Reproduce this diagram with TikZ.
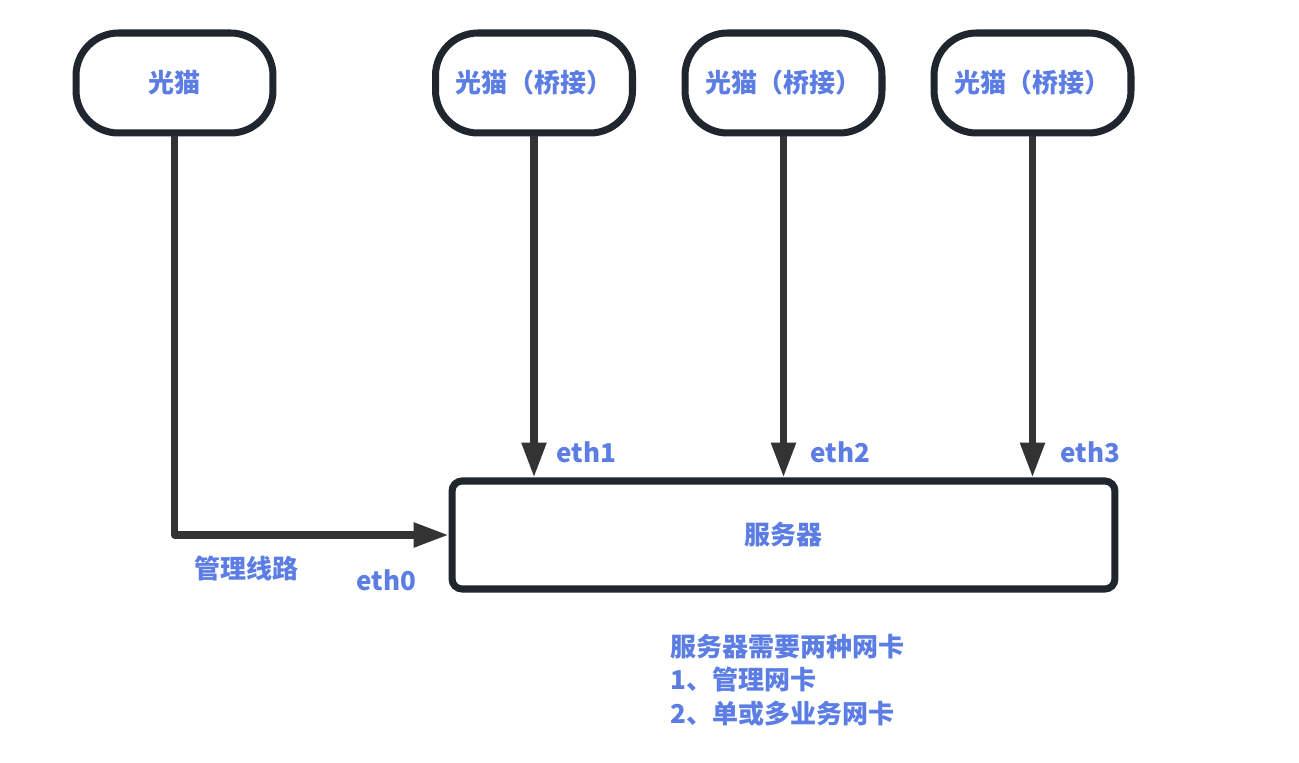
\documentclass[tikz,border=0pt]{standalone}
\usepackage{fontspec}
\newfontfamily\cjk{Noto Sans CJK SC}
\usepackage{tikz}
\usetikzlibrary{arrows.meta}
\usetikzlibrary{positioning}
\definecolor{boxline}{RGB}{31,38,46}
\definecolor{wire}{RGB}{51,51,51}
\definecolor{labelblue}{RGB}{91,125,228}
\tikzset{
    modem/.style={draw=boxline, line width=4pt, rounded corners=0.85cm,
        minimum width=3.94cm, minimum height=2cm, fill=white},
    server/.style={draw=boxline, line width=4pt, rounded corners=0.2cm,
        minimum width=13.26cm, minimum height=2.16cm, fill=white},
    link/.style={draw=wire, line width=4pt, line join=round,
        -{Triangle[length=0.7cm, width=0.47cm]}},
    txt/.style={text=labelblue, font=\cjk\bfseries\fontsize{14.8}{19.2}\selectfont, inner sep=0pt},
}

\begin{document}
\begin{tikzpicture}[x=0.02cm, y=-0.02cm]
	\useasboundingbox (0,0) rectangle (1299,763);
	% the modems
	\node[modem, txt, inner sep=0pt] (m0) at (174.5,83) {光猫};
	\node[modem, txt, inner sep=0pt] (m1) at (534,83) {光猫（桥接）};
	\node[modem, txt, inner sep=0pt] (m2) at (783.5,83) {光猫（桥接）};
	\node[modem, txt, inner sep=0pt] (m3) at (1032.5,83) {光猫（桥接）};
	% the server
	\node[server, txt, inner sep=0pt] (srv) at (783.5,535) {服务器};
	%
	\draw[link] (m0.south) |- (srv.west);
	\draw[link] (m1.south) -- (m1.south |- srv.north);
	\draw[link] (m2.south) -- (m2.south |- srv.north);
	\draw[link] (m3.south) -- (m3.south |- srv.north);
	% labels
	\node[txt, anchor=west] (e1) at (556,452) {eth1};
	\node[txt, anchor=west] (e2) at (810,452) {eth2};
	\node[txt, anchor=west] (e3) at (1060,452) {eth3};
	\node[txt, anchor=west] (e0) at (356,580) {eth0};
	\node[txt, anchor=west] (mgmt) at (194,569) {管理线路};
	\node[txt, anchor=west, align=left] (note) at (670,680)
		{服务器需要两种网卡\\1、管理网卡\\2、单或多业务网卡};
\end{tikzpicture}
\end{document}
